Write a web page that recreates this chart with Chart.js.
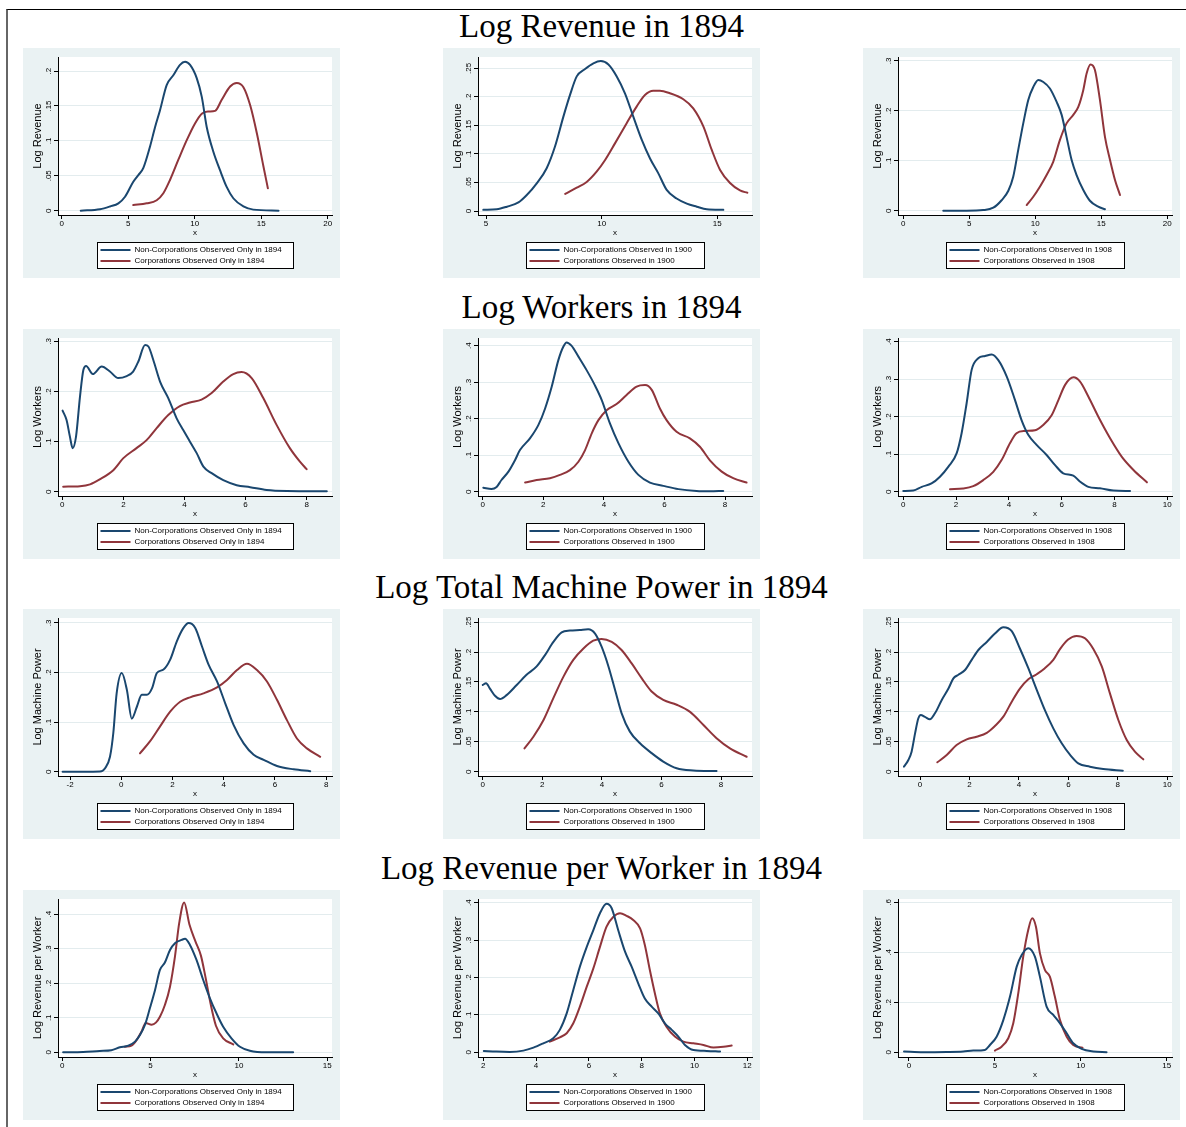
<!DOCTYPE html>
<html><head><meta charset="utf-8">
<script src="https://cdn.jsdelivr.net/npm/chart.js@4/dist/chart.umd.min.js"></script>
<style>
html,body{margin:0;padding:0;background:#fff;}
body{width:1186px;height:1127px;position:relative;overflow:hidden;}
.frame{position:absolute;left:6px;top:9px;width:1180px;height:1118px;border-top:1px solid #000;border-left:2px solid #666;box-sizing:border-box;}
.title{position:absolute;left:23px;width:1157px;text-align:center;font-family:"Liberation Serif","Times New Roman",serif;font-size:33px;line-height:36px;color:#000;white-space:nowrap;}
.panel{position:absolute;width:317px;height:230px;background:#eaf2f3;}
.panel canvas{display:block;}
</style></head><body>
<div class="frame"></div>
<div id="root"></div>
<script>
// ---------- text ----------
const sectionTitles = ["Log Revenue in 1894","Log Workers in 1894","Log Total Machine Power in 1894","Log Revenue per Worker in 1894"];
const yAxisTitles = ["Log Revenue","Log Workers","Log Machine Power","Log Revenue per Worker"];
const nonCorpLabels = ["Non-Corporations Observed Only in 1894","Non-Corporations Observed in 1900","Non-Corporations Observed in 1908"];
const corpLabels = ["Corporations Observed Only in 1894","Corporations Observed in 1900","Corporations Observed in 1908"];

// ---------- tick labels ----------
const xTicksRev94 = [0,5,10,15,20];
const xTicksRev00 = [5,10,15];
const xTicksRev08 = [0,5,10,15,20];
const xTicksWrk94 = [0,2,4,6,8];
const xTicksWrk00 = [0,2,4,6,8];
const xTicksWrk08 = [0,2,4,6,8,10];
const xTicksMp94 = [-2,0,2,4,6,8];
const xTicksMp00 = [0,2,4,6,8];
const xTicksMp08 = [0,2,4,6,8,10];
const xTicksRpw94 = [0,5,10,15];
const xTicksRpw00 = [2,4,6,8,10,12];
const xTicksRpw08 = [0,5,10,15];

const yTicksRev94 = [0,0.05,0.1,0.15,0.2];
const yTicksRev00 = [0,0.05,0.1,0.15,0.2,0.25];
const yTicksRev08 = [0,0.1,0.2,0.3];
const yTicksWrk94 = [0,0.1,0.2,0.3];
const yTicksWrk00 = [0,0.1,0.2,0.3,0.4];
const yTicksWrk08 = [0,0.1,0.2,0.3,0.4];
const yTicksMp94 = [0,0.1,0.2,0.3];
const yTicksMp00 = [0,0.05,0.1,0.15,0.2,0.25];
const yTicksMp08 = [0,0.05,0.1,0.15,0.2,0.25];
const yTicksRpw94 = [0,0.1,0.2,0.3,0.4];
const yTicksRpw00 = [0,0.1,0.2,0.3,0.4];
const yTicksRpw08 = [0,0.2,0.4,0.6];

// ---------- series: [x, density] ----------
const rev1894Non = [[1.43,0],[2.88,0.002],[3.63,0.006],[4.26,0.0105],[4.76,0.02],[5.38,0.0415],[5.76,0.051],[6.13,0.061],[6.64,0.092],[7.02,0.12],[7.39,0.144],[7.89,0.18],[8.39,0.194],[8.89,0.209],[9.27,0.2135],[9.65,0.209],[10.15,0.19],[10.53,0.163],[10.9,0.12],[11.4,0.0845],[11.9,0.058],[12.4,0.034],[12.9,0.0178],[13.66,0.006],[14.4,0.0015],[16.3,0]];
const rev1894Corp = [[5.38,0.008],[6.39,0.0105],[7.14,0.015],[7.64,0.025],[8.14,0.044],[8.77,0.073],[9.4,0.101],[10.02,0.125],[10.53,0.139],[11.03,0.142],[11.53,0.143],[12.03,0.159],[12.66,0.178],[13.16,0.183],[13.66,0.177],[14.17,0.151],[14.67,0.111],[15.17,0.063],[15.5,0.032]];
const rev1900Non = [[4.88,0.002],[5.46,0.003],[5.9,0.0076],[6.4,0.015],[6.76,0.028],[7.19,0.0486],[7.62,0.075],[7.98,0.113],[8.34,0.165],[8.63,0.2035],[8.92,0.236],[9.28,0.249],[9.64,0.259],[9.96,0.263],[10.29,0.257],[10.65,0.236],[11.01,0.206],[11.37,0.165],[11.73,0.125],[12.09,0.092],[12.45,0.066],[12.81,0.037],[13.24,0.022],[13.68,0.013],[14.11,0.0076],[14.54,0.003],[15.26,0.002]];
const rev1900Corp = [[8.42,0.03],[8.92,0.041],[9.35,0.051],[9.78,0.069],[10.14,0.089],[10.58,0.119],[11.08,0.154],[11.51,0.183],[11.87,0.2035],[12.23,0.211],[12.52,0.211],[12.95,0.2065],[13.53,0.196],[13.96,0.18],[14.4,0.148],[14.76,0.107],[15.12,0.072],[15.55,0.049],[15.98,0.036],[16.3,0.032]];
const rev1908Non = [[3.03,0],[4.8,0],[6.06,0.0013],[6.82,0.006],[7.45,0.021],[7.96,0.04],[8.33,0.068],[8.71,0.122],[9.09,0.175],[9.47,0.222],[9.85,0.248],[10.23,0.262],[10.61,0.258],[11.11,0.245],[11.62,0.218],[12.0,0.192],[12.37,0.148],[12.75,0.102],[13.13,0.0715],[13.64,0.0415],[14.14,0.02],[14.77,0.008],[15.28,0.003]];
const rev1908Corp = [[9.35,0.0114],[9.85,0.028],[10.35,0.048],[10.86,0.0715],[11.36,0.098],[11.87,0.142],[12.37,0.175],[12.88,0.192],[13.26,0.208],[13.64,0.242],[13.89,0.275],[14.19,0.293],[14.52,0.282],[14.9,0.222],[15.28,0.148],[15.66,0.102],[16.04,0.0615],[16.42,0.0315]];

const wrk1894Non = [[0.01,0.162],[0.14,0.143],[0.25,0.11],[0.34,0.087],[0.45,0.11],[0.58,0.19],[0.69,0.243],[0.78,0.251],[1.0,0.235],[1.29,0.25],[1.56,0.24],[1.83,0.227],[2.11,0.231],[2.32,0.24],[2.49,0.26],[2.71,0.293],[2.82,0.29],[2.98,0.263],[3.2,0.22],[3.47,0.187],[3.74,0.147],[3.96,0.123],[4.18,0.1],[4.4,0.077],[4.62,0.05],[4.89,0.037],[5.27,0.023],[5.71,0.013],[6.15,0.009],[6.69,0.0035],[7.35,0.0015],[8.66,0.001]];
const wrk1894Corp = [[0.03,0.01],[0.58,0.011],[0.91,0.0147],[1.24,0.025],[1.67,0.043],[2.0,0.067],[2.43,0.087],[2.76,0.103],[3.09,0.127],[3.47,0.153],[3.85,0.171],[4.18,0.178],[4.56,0.184],[4.89,0.197],[5.27,0.22],[5.6,0.235],[5.87,0.239],[6.2,0.227],[6.58,0.187],[7.02,0.133],[7.45,0.087],[7.78,0.06],[8.0,0.045]];
const wrk1900Non = [[0.02,0.011],[0.29,0.0073],[0.46,0.013],[0.62,0.032],[0.85,0.055],[1.07,0.087],[1.23,0.114],[1.56,0.146],[1.84,0.183],[2.06,0.228],[2.28,0.288],[2.5,0.361],[2.66,0.397],[2.77,0.409],[2.93,0.4],[3.16,0.37],[3.43,0.333],[3.7,0.292],[3.93,0.251],[4.2,0.187],[4.48,0.133],[4.81,0.082],[5.14,0.046],[5.52,0.025],[5.96,0.016],[6.46,0.007],[7.06,0.0018],[7.5,0.001],[7.94,0.002]];
const wrk1900Corp = [[1.4,0.025],[1.78,0.032],[2.22,0.037],[2.55,0.046],[2.88,0.059],[3.16,0.082],[3.38,0.114],[3.6,0.16],[3.82,0.196],[4.1,0.224],[4.42,0.24],[4.75,0.265],[5.08,0.288],[5.36,0.292],[5.58,0.279],[5.85,0.228],[6.07,0.196],[6.4,0.164],[6.84,0.146],[7.17,0.123],[7.5,0.086],[7.89,0.055],[8.27,0.037],[8.71,0.025]];
const wrk1908Non = [[0,0.002],[0.38,0.003],[0.7,0.013],[1.07,0.022],[1.39,0.04],[1.71,0.067],[2.02,0.102],[2.21,0.156],[2.4,0.236],[2.59,0.325],[2.84,0.356],[3.1,0.362],[3.35,0.366],[3.6,0.351],[3.92,0.307],[4.23,0.245],[4.48,0.191],[4.74,0.151],[5.05,0.125],[5.43,0.098],[5.75,0.071],[6.06,0.049],[6.44,0.043],[6.69,0.027],[7.01,0.013],[7.45,0.009],[7.96,0.003],[8.59,0.002]];
const wrk1908Corp = [[1.77,0.0067],[2.27,0.0085],[2.65,0.0147],[3.03,0.031],[3.41,0.053],[3.73,0.085],[4.04,0.129],[4.29,0.156],[4.61,0.162],[4.99,0.164],[5.3,0.178],[5.62,0.204],[5.88,0.245],[6.13,0.285],[6.45,0.305],[6.69,0.294],[7.01,0.254],[7.39,0.2],[7.84,0.142],[8.28,0.093],[8.72,0.058],[9.23,0.025]];

const mp1894Non = [[-2.29,0],[-1.48,0],[-0.83,0.0005],[-0.63,0.007],[-0.44,0.03],[-0.31,0.078],[-0.18,0.158],[0.02,0.199],[0.22,0.165],[0.41,0.107],[0.61,0.131],[0.8,0.155],[1.0,0.155],[1.2,0.168],[1.39,0.199],[1.65,0.206],[1.91,0.226],[2.17,0.263],[2.43,0.29],[2.63,0.3],[2.89,0.29],[3.15,0.253],[3.41,0.216],[3.74,0.182],[4.06,0.138],[4.39,0.094],[4.78,0.057],[5.17,0.034],[5.56,0.024],[6.08,0.0115],[6.73,0.0048],[7.38,0.001]];
const mp1894Corp = [[0.73,0.037],[1.12,0.061],[1.51,0.091],[1.91,0.121],[2.3,0.141],[2.69,0.15],[3.21,0.158],[3.74,0.17],[4.13,0.185],[4.52,0.205],[4.91,0.2175],[5.3,0.205],[5.69,0.182],[6.08,0.145],[6.47,0.104],[6.86,0.067],[7.25,0.047],[7.77,0.03]];
const mp1900Non = [[0,0.145],[0.11,0.148],[0.24,0.139],[0.41,0.127],[0.58,0.1215],[0.8,0.128],[1.14,0.145],[1.47,0.162],[1.81,0.176],[2.09,0.195],[2.37,0.217],[2.65,0.233],[2.93,0.236],[3.26,0.237],[3.54,0.238],[3.77,0.231],[3.99,0.209],[4.22,0.176],[4.44,0.137],[4.66,0.098],[4.94,0.067],[5.28,0.0475],[5.67,0.031],[6.06,0.017],[6.51,0.0057],[7.07,0.002],[7.85,0.001]];
const mp1900Corp = [[1.4,0.039],[1.7,0.0585],[2.04,0.0865],[2.37,0.123],[2.71,0.159],[3.04,0.187],[3.38,0.206],[3.71,0.219],[3.99,0.222],[4.33,0.217],[4.66,0.2035],[5.0,0.181],[5.34,0.156],[5.67,0.134],[6.06,0.12],[6.51,0.112],[6.96,0.1],[7.41,0.078],[7.85,0.056],[8.3,0.039],[8.86,0.025]];
const mp1908Non = [[-0.65,0.0084],[-0.47,0.0195],[-0.34,0.0335],[-0.2,0.064],[-0.07,0.089],[0.03,0.095],[0.2,0.0915],[0.4,0.0876],[0.61,0.098],[0.88,0.12],[1.15,0.139],[1.35,0.156],[1.55,0.162],[1.82,0.17],[2.09,0.187],[2.36,0.2035],[2.7,0.217],[3.03,0.231],[3.37,0.2415],[3.71,0.235],[4.04,0.206],[4.38,0.173],[4.72,0.137],[5.05,0.103],[5.39,0.0725],[5.73,0.0475],[6.07,0.028],[6.4,0.014],[6.87,0.0084],[7.41,0.0045],[8.2,0.0017]];
const mp1908Corp = [[0.7,0.0157],[1.08,0.028],[1.48,0.0446],[1.89,0.054],[2.29,0.0585],[2.7,0.065],[3.03,0.0765],[3.37,0.092],[3.71,0.117],[4.04,0.139],[4.38,0.1545],[4.72,0.163],[5.05,0.173],[5.39,0.187],[5.66,0.205],[5.99,0.221],[6.33,0.227],[6.67,0.223],[7.01,0.205],[7.35,0.176],[7.68,0.131],[8.02,0.0865],[8.36,0.053],[8.69,0.0335],[9.03,0.0207]];

const rpw1894Non = [[0.05,0],[1.18,0.001],[2.12,0.004],[2.78,0.006],[3.26,0.0145],[3.74,0.0195],[4.12,0.031],[4.4,0.05],[4.68,0.079],[4.96,0.1275],[5.25,0.18],[5.53,0.2385],[5.81,0.26],[6.1,0.2965],[6.38,0.316],[6.76,0.3255],[6.95,0.329],[7.23,0.311],[7.6,0.2675],[7.98,0.2095],[8.36,0.1565],[8.73,0.113],[9.11,0.074],[9.58,0.0405],[10.06,0.016],[10.62,0.0045],[11.57,0],[13.07,0]];
const rpw1894Corp = [[3.55,0.016],[3.92,0.0195],[4.21,0.0355],[4.49,0.06],[4.72,0.085],[5.06,0.08],[5.3,0.086],[5.53,0.103],[5.81,0.137],[6.1,0.19],[6.38,0.277],[6.62,0.374],[6.9,0.434],[7.2,0.37],[7.55,0.32],[7.85,0.28],[8.1,0.22],[8.4,0.14],[8.7,0.077],[9.11,0.0405],[9.68,0.023]];
const rpw1900Non = [[2.02,0.0036],[2.5,0.0018],[3.0,0.001],[3.52,0.0045],[3.9,0.0125],[4.27,0.024],[4.65,0.0375],[4.9,0.06],[5.16,0.104],[5.41,0.1665],[5.66,0.229],[5.92,0.282],[6.17,0.327],[6.42,0.372],[6.67,0.397],[6.86,0.386],[7.11,0.327],[7.37,0.269],[7.62,0.229],[7.87,0.1845],[8.12,0.144],[8.38,0.122],[8.63,0.104],[8.88,0.0775],[9.14,0.06],[9.39,0.042],[9.64,0.0195],[9.96,0.006],[10.47,0.0036],[10.97,0.002]];
const rpw1900Corp = [[4.52,0.0285],[4.9,0.04],[5.16,0.051],[5.41,0.0775],[5.66,0.122],[5.92,0.1755],[6.17,0.2245],[6.42,0.282],[6.67,0.336],[6.93,0.3625],[7.18,0.372],[7.43,0.365],[7.68,0.354],[7.94,0.3315],[8.12,0.287],[8.31,0.22],[8.5,0.158],[8.69,0.104],[8.94,0.0685],[9.26,0.042],[9.58,0.0285],[9.96,0.024],[10.34,0.0195],[10.72,0.0125],[11.1,0.0145],[11.41,0.018]];
const rpw1908Non = [[-0.29,0.003],[0.83,0],[2.19,0.001],[3.16,0.003],[3.74,0.0067],[4.42,0.0094],[4.71,0.029],[5.1,0.0625],[5.49,0.129],[5.88,0.223],[6.27,0.343],[6.56,0.39],[6.94,0.417],[7.33,0.383],[7.62,0.303],[8.01,0.183],[8.4,0.1495],[8.79,0.116],[9.18,0.076],[9.56,0.036],[10.05,0.0135],[10.73,0.003],[11.5,0]];
const rpw1908Corp = [[5.0,0.0067],[5.39,0.0225],[5.78,0.056],[6.07,0.116],[6.36,0.236],[6.65,0.383],[6.94,0.49],[7.17,0.537],[7.39,0.503],[7.62,0.397],[7.91,0.33],[8.2,0.303],[8.49,0.223],[8.79,0.129],[9.18,0.0625],[9.56,0.029],[10.1,0.018]];

// ---------- axis ranges [xmin, xmax, ymin, ymax] ----------
const axisRanges = [
  [[-0.28,20.32,-0.0062,0.2202],[4.65,16.5,-0.007,0.27],[-0.4,20.36,-0.0086,0.308]],
  [[-0.14,8.83,-0.0086,0.307],[-0.155,8.89,-0.0118,0.421],[-0.2,10.18,-0.0115,0.41]],
  [[-2.47,8.23,-0.0087,0.31],[-0.16,9.04,-0.0072,0.257],[-0.89,10.19,-0.0072,0.257]],
  [[-0.24,15.27,-0.0136,0.444],[1.8,12.18,-0.0126,0.41],[-0.64,15.31,-0.019,0.614]]
];

const panelSeries = [
  [[rev1894Non,rev1894Corp,xTicksRev94,yTicksRev94],[rev1900Non,rev1900Corp,xTicksRev00,yTicksRev00],[rev1908Non,rev1908Corp,xTicksRev08,yTicksRev08]],
  [[wrk1894Non,wrk1894Corp,xTicksWrk94,yTicksWrk94],[wrk1900Non,wrk1900Corp,xTicksWrk00,yTicksWrk00],[wrk1908Non,wrk1908Corp,xTicksWrk08,yTicksWrk08]],
  [[mp1894Non,mp1894Corp,xTicksMp94,yTicksMp94],[mp1900Non,mp1900Corp,xTicksMp00,yTicksMp00],[mp1908Non,mp1908Corp,xTicksMp08,yTicksMp08]],
  [[rpw1894Non,rpw1894Corp,xTicksRpw94,yTicksRpw94],[rpw1900Non,rpw1900Corp,xTicksRpw00,yTicksRpw00],[rpw1908Non,rpw1908Corp,xTicksRpw08,yTicksRpw08]]
];

// ---------- layout & style ----------
const NAVY = '#1a476f', MAROON = '#90353b';
const colX = [23,443,863];
const rowY = [48,329,609,890];
const SANS = '"Liberation Sans", Arial, sans-serif';

function fmtY(v){ return v === 0 ? '0' : String(v).replace(/^0\./,'.'); }

const plotBg = {
  id:'plotBg',
  beforeDraw(chart){
    const {ctx, chartArea:a} = chart;
    ctx.save(); ctx.fillStyle='#fff';
    ctx.fillRect(a.left, a.top, a.right-a.left, a.bottom-a.top);
    ctx.restore();
  }
};
const yLabels = {
  id:'yLabels',
  afterDraw(chart){
    const {ctx, chartArea:a} = chart; const s = chart.scales.y;
    ctx.save();
    ctx.font = '8px ' + SANS; ctx.fillStyle = '#000';
    ctx.textAlign = 'center'; ctx.textBaseline = 'middle';
    s.ticks.forEach(t => {
      const py = s.getPixelForValue(t.value);
      ctx.save(); ctx.translate(a.left - 9.5, py); ctx.rotate(-Math.PI/2);
      ctx.fillText(fmtY(t.value), 0, 0); ctx.restore();
    });
    ctx.restore();
  }
};
const stataLegend = {
  id:'stataLegend',
  afterDraw(chart){
    const {ctx, chartArea:a} = chart;
    const ds = chart.data.datasets;
    ctx.save();
    ctx.font = '8px ' + SANS;
    const tw = Math.max(...ds.map(d => ctx.measureText(d.label).width));
    const w = Math.round(tw + 49), h = 26;
    const cx = (a.left + a.right)/2;
    const bx = Math.round(cx - w/2) + 0.5, by = Math.round(a.bottom + 27) + 0.5;
    ctx.fillStyle = '#fff'; ctx.fillRect(bx, by, w, h);
    ctx.strokeStyle = '#000'; ctx.lineWidth = 1; ctx.strokeRect(bx, by, w, h);
    ds.forEach((d,i) => {
      const yy = by + 7.5 + i*11;
      ctx.strokeStyle = d.borderColor; ctx.lineWidth = 2;
      ctx.beginPath(); ctx.moveTo(bx+3, yy); ctx.lineTo(bx+33, yy); ctx.stroke();
      ctx.fillStyle = '#000'; ctx.textAlign = 'left'; ctx.textBaseline = 'middle';
      ctx.fillText(d.label, bx + 37, yy);
    });
    ctx.restore();
  }
};

const root = document.getElementById('root');
sectionTitles.forEach((t, r) => {
  const d = document.createElement('div');
  d.className = 'title'; d.textContent = t; d.style.top = (rowY[r] - 40) + 'px';
  root.appendChild(d);
});

for (let r = 0; r < 4; r++) {
  for (let c = 0; c < 3; c++) {
    const [non, corp, xt, yt] = panelSeries[r][c];
    const [xmin, xmax, ymin, ymax] = axisRanges[r][c];
    const div = document.createElement('div');
    div.className = 'panel';
    div.style.left = colX[c] + 'px'; div.style.top = rowY[r] + 'px';
    const cv = document.createElement('canvas');
    cv.width = 317; cv.height = 230;
    cv.style.width = '317px'; cv.style.height = '230px';
    div.appendChild(cv); root.appendChild(div);
    new Chart(cv, {
      type: 'line',
      data: { datasets: [
        { label: nonCorpLabels[c], data: non.map(p => ({x:p[0], y:p[1]})), borderColor: NAVY, backgroundColor: NAVY, fill: false },
        { label: corpLabels[c], data: corp.map(p => ({x:p[0], y:p[1]})), borderColor: MAROON, backgroundColor: MAROON, fill: false }
      ]},
      options: {
        responsive: false, animation: false, devicePixelRatio: 1,
        layout: { padding: { left: 0, right: 8, top: 9, bottom: 33 } },
        plugins: { legend: { display: false }, title: { display: false }, tooltip: { enabled: false } },
        elements: { point: { radius: 0 }, line: { borderWidth: 2, cubicInterpolationMode: 'monotone', borderCapStyle: 'round', borderJoinStyle: 'round' } },
        scales: {
          x: {
            type: 'linear', min: xmin, max: xmax,
            afterBuildTicks: s => { s.ticks = xt.map(v => ({ value: v })); },
            afterFit: s => { s.height = 30; },
            grid: { drawOnChartArea: false, drawTicks: true, tickLength: 4, tickColor: '#000', tickWidth: 1 },
            border: { display: true, color: '#000', width: 1 },
            ticks: { font: { family: SANS, size: 8 }, color: '#000', padding: 0, maxRotation: 0, autoSkip: false, callback: v => String(v) },
            title: { display: true, text: 'x', font: { family: SANS, size: 8 }, color: '#000', padding: { top: 0, bottom: 7 } }
          },
          y: {
            type: 'linear', min: ymin, max: ymax,
            afterBuildTicks: s => { s.ticks = yt.map(v => ({ value: v })); },
            afterFit: s => { s.width = 35; },
            grid: { color: '#e3ecee', lineWidth: 1, drawTicks: true, tickLength: 4, tickColor: '#000', tickWidth: 1 },
            border: { display: true, color: '#000', width: 1 },
            ticks: { display: false },
            title: { display: true, text: yAxisTitles[r], font: { family: SANS, size: 11 }, color: '#000', padding: { top: 8, bottom: 0 } }
          }
        }
      },
      plugins: [plotBg, yLabels, stataLegend]
    });
  }
}
</script>
</body></html>
